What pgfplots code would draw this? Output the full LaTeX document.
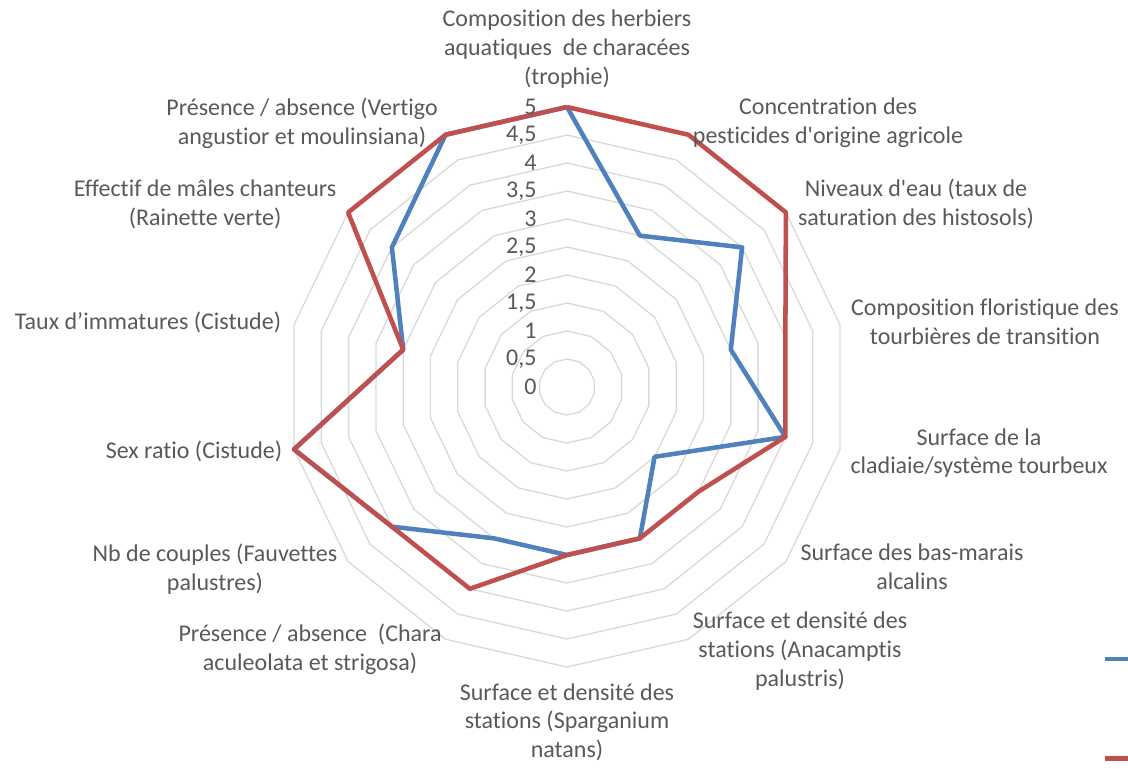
\documentclass[border=0pt]{standalone}
\usepackage{pgfplots}
\pgfplotsset{compat=1.18}
\usepackage{pgfplotstable}
\usepackage{fontspec}
\setmainfont{Carlito}[Ligatures={NoCommon,TeXOff}]
\definecolor{sblue}{HTML}{4F81BD}
\definecolor{sred}{HTML}{C0504D}
\definecolor{ringc}{HTML}{D9D9D9}
\definecolor{txt}{HTML}{595959}

\pgfplotstableread{
a blue red
90 5 5
64.2857 3 5
38.5714 4 5
12.8571 3 4
-12.8571 4 4
-38.5714 2 3
-64.2857 3 3
-90 3 3
-115.7143 3 4
-141.4286 4 4
-167.1429 5 5
-192.8571 3 3
-218.5714 4 5
-244.2857 5 5
-270 5 5
}\data

\begin{document}
\begin{tikzpicture}[font=\fontsize{18pt}{21.5pt}\selectfont, every node/.append style={text=txt}]
\begin{axis}[
  hide axis, x=42pt, y=42pt,
  xmin=-10.125, xmax=10.018, ymin=-6.821, ymax=6.911,
  clip=false,
  legend image code/.code={\draw[#1] (0pt,0pt) -- (30pt,0pt);},
  legend style={at={(axis cs:9.571,-4.82)}, anchor=north west, draw=none, fill=none,
     inner sep=0pt, outer sep=0pt, row sep=71pt, nodes={inner sep=0pt}},
]
\pgfplotsinvokeforeach{0.5,1,1.5,2,2.5,3,3.5,4,4.5,5}{
\addplot[ringc, line width=1pt, forget plot] table[x expr={#1*cos(\thisrow{a})}, y expr={#1*sin(\thisrow{a})}]{\data};
}
\addplot[sblue, line width=3.4pt, line join=round] table[x expr={\thisrow{blue}*cos(\thisrow{a})}, y expr={\thisrow{blue}*sin(\thisrow{a})}]{\data};
\addlegendentry{}
\addplot[sred, line width=3.4pt, line join=round] table[x expr={\thisrow{red}*cos(\thisrow{a})}, y expr={\thisrow{red}*sin(\thisrow{a})}]{\data};
\addlegendentry{}

\node[anchor=east] at (axis cs:-0.46,0) {0};
\node[anchor=east] at (axis cs:-0.46,0.5) {0,5};
\node[anchor=east] at (axis cs:-0.46,1) {1};
\node[anchor=east] at (axis cs:-0.46,1.5) {1,5};
\node[anchor=east] at (axis cs:-0.46,2) {2};
\node[anchor=east] at (axis cs:-0.46,2.5) {2,5};
\node[anchor=east] at (axis cs:-0.46,3) {3};
\node[anchor=east] at (axis cs:-0.46,3.5) {3,5};
\node[anchor=east] at (axis cs:-0.46,4) {4};
\node[anchor=east] at (axis cs:-0.46,4.5) {4,5};
\node[anchor=east] at (axis cs:-0.46,5) {5};

\node[align=center] at (axis cs:0,6.036) {Composition des herbiers\\aquatiques\ \ de characées\\(trophie)};
\node[align=center] at (axis cs:4.661,4.714) {Concentration des\\pesticides d'origine agricole};
\node[align=center] at (axis cs:6.232,3.268) {Niveaux d'eau (taux de\\saturation des histosols)};
\node[align=center] at (axis cs:7.464,1.161) {Composition floristique des\\tourbières de transition};
\node[align=center] at (axis cs:7.357,-1.179) {Surface de la\\cladiaie/système tourbeux};
\node[align=center] at (axis cs:6.161,-3.214) {Surface des bas-marais\\alcalins};
\node[align=center] at (axis cs:4.161,-4.714) {Surface et densité des\\stations (Anacamptis\\palustris)};
\node[align=center] at (axis cs:0,-5.982) {Surface et densité des\\stations (Sparganium\\natans)};
\node[align=center] at (axis cs:-4.589,-4.679) {Présence / absence\ \ (Chara\\aculeolata et strigosa)};
\node[align=center] at (axis cs:-6.286,-3.25) {Nb de couples (Fauvettes\\palustres)};
\node[align=center] at (axis cs:-6.661,-1.143) {Sex ratio (Cistude)};
\node[align=center] at (axis cs:-7.482,1.161) {Taux d’immatures (Cistude)};
\node[align=center] at (axis cs:-6.464,3.268) {Effectif de mâles chanteurs\\(Rainette verte)};
\node[align=center] at (axis cs:-4.732,4.714) {Présence / absence (Vertigo\\angustior et moulinsiana)};
\end{axis}
\pgfresetboundingbox
\useasboundingbox (current axis.south west) rectangle (current axis.north east);
\end{tikzpicture}
\end{document}
